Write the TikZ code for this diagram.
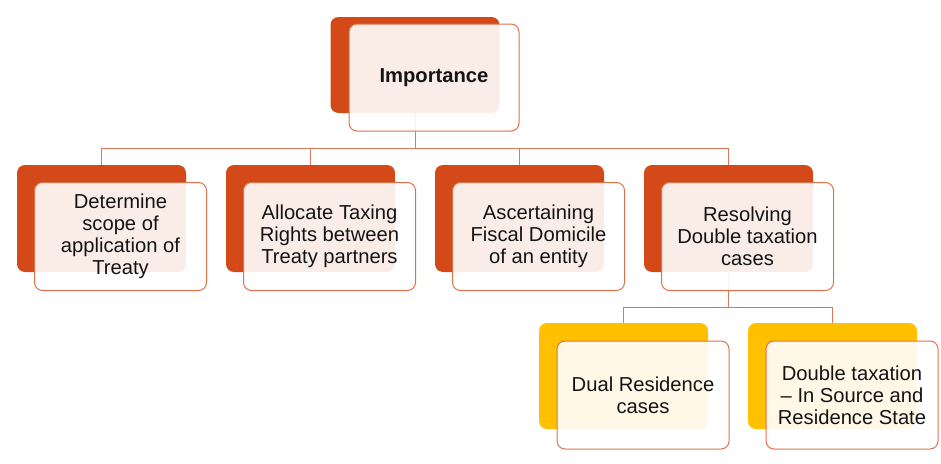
\documentclass[tikz,border=0pt]{standalone}
\usepackage{fontspec}
\setmainfont{Liberation Sans}
\definecolor{backor}{HTML}{D34A18}
\definecolor{backye}{HTML}{FFC000}
\definecolor{edgeor}{HTML}{E0704B}
\definecolor{lineor}{HTML}{D9785A}
\definecolor{txt}{HTML}{141414}
\begin{document}
\begin{tikzpicture}[x=1pt,y=-1pt,
  backbox/.style={fill=backor, draw=none, rounded corners=8pt, minimum width=169pt, minimum height=107pt, inner sep=0pt},
  backyel/.style={backbox, fill=backye, minimum height=106pt},
  frontbox/.style={fill=white, fill opacity=0.9, text opacity=1, draw=edgeor, draw opacity=1, line width=1pt, rounded corners=8pt, minimum width=172pt, minimum height=108pt, inner sep=0pt,
    text=txt, align=center, font=\fontsize{20.2}{22}\selectfont},
  conn/.style={draw=lineor, line width=1pt}]
\useasboundingbox (0,0) rectangle (941,463);
\coordinate (h1) at (0,148);
\coordinate (h2) at (0,307);
% back boxes
\node[backbox, minimum height=96pt] (imB) at (415,65) {};
\node[backbox] (aB) at (101.5,218.5) {};
\node[backbox] (bB) at (310.5,218.5) {};
\node[backbox] (cB) at (519.5,218.5) {};
\node[backbox] (dB) at (728.5,218.5) {};
\node[backyel] (eB) at (623.5,376) {};
\node[backyel] (fB) at (832.5,376) {};
% connectors
\draw[conn] (imB.south) -- (imB.south |- h1) -| (aB.north);
\draw[conn] (imB.south |- h1) -| (bB.north);
\draw[conn] (imB.south |- h1) -| (cB.north);
\draw[conn] (imB.south |- h1) -| (dB.north);
\draw[conn] (dB.south) -- (dB.south |- h2) -| (eB.north);
\draw[conn] (dB.south |- h2) -| (fB.north);
% front boxes
\node[frontbox, minimum width=170pt, minimum height=107pt, font=\fontsize{20.2}{22}\selectfont\bfseries] (im) at (434,77.5) {Importance};
\node[frontbox] (a) at (120.5,236.5) {Determine\\scope of\\application of\\Treaty};
\node[frontbox] (b) at (329.5,236.5) {Allocate Taxing\\Rights between\\Treaty partners};
\node[frontbox] (c) at (538.5,236.5) {Ascertaining\\Fiscal Domicile\\of an entity};
\node[frontbox] (d) at (747.5,236.5) {Resolving\\Double taxation\\cases};
\node[frontbox] (e) at (643,395) {Dual Residence\\cases};
\node[frontbox] (f) at (852,395) {Double taxation\\-- In Source and\\Residence State};
\end{tikzpicture}
\end{document}
